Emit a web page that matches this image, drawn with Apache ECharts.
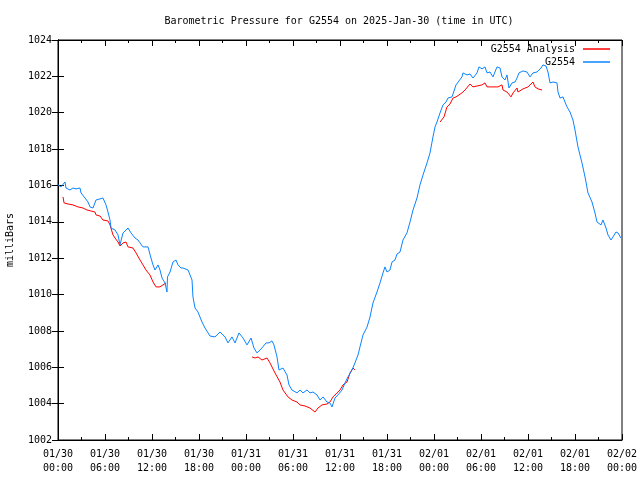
<!DOCTYPE html>
<html><head><meta charset="utf-8">
<script src="https://cdn.jsdelivr.net/npm/echarts@6/dist/echarts.min.js"></script>
<style>html,body{margin:0;padding:0;background:#fff}#c{width:640px;height:480px}</style>
</head><body><div id="c"></div>
<script>
const titleText = 'Barometric Pressure for G2554 on 2025-Jan-30 (time in UTC)';
const yAxisName = 'milliBars';
const xTickLabels = ['01/30\n00:00','01/30\n06:00','01/30\n12:00','01/30\n18:00','01/31\n00:00','01/31\n06:00','01/31\n12:00','01/31\n18:00','02/01\n00:00','02/01\n06:00','02/01\n12:00','02/01\n18:00','02/02\n00:00'];
const seriesNames = ['G2554 Analysis', 'G2554'];

// hours since 2025-01-30 00:00 UTC
const stationHours = [0,0.38,0.89,1.02,1.53,1.91,2.30,2.81,2.94,3.45,3.83,4.09,4.21,4.47,4.85,5.36,5.74,6.13,6.38,6.64,6.77,7.28,7.66,7.91,8.30,8.68,8.94,9.32,9.83,10.21,10.47,10.85,11.49,11.87,12.13,12.38,12.77,13.02,13.28,13.66,13.91,13.98,14.30,14.68,15.06,15.32,15.70,15.96,16.60,17.11,17.23,17.49,17.87,18.38,18.77,19.40,20.04,20.68,21.32,21.70,22.21,22.60,23.11,23.62,24.13,24.64,25.02,25.40,26.04,26.55,26.94,27.32,27.57,27.96,28.21,28.72,29.23,29.49,29.87,30.51,30.89,31.28,31.79,32.17,32.55,33.06,33.45,33.83,34.34,34.72,34.98,35.36,35.74,36.26,36.64,37.02,37.53,37.91,38.30,38.55,38.94,39.45,39.83,40.21,40.72,41.11,41.49,41.74,42.00,42.38,42.64,43.02,43.28,43.66,44.04,44.55,44.94,45.32,45.83,46.21,46.60,47.11,47.49,47.87,48.13,48.38,48.77,49.15,49.53,49.79,50.30,50.55,50.81,51.06,51.57,51.70,52.21,52.60,52.98,53.49,53.74,54.13,54.51,54.77,55.15,55.53,56.04,56.43,56.68,57.06,57.32,57.57,57.96,58.34,58.60,58.85,59.36,59.87,60.26,60.64,61.15,61.66,61.91,62.30,62.55,62.81,63.19,63.70,63.83,64.09,64.47,64.72,64.98,65.36,65.74,66.00,66.38,66.89,67.28,67.66,68.17,68.55,68.81,69.06,69.32,69.57,69.96,70.21,70.60,70.85,71.23,71.49,71.87];
const stationValues = [1016.03,1015.92,1016.19,1015.86,1015.75,1015.86,1015.81,1015.86,1015.59,1015.31,1015.09,1014.82,1014.93,1014.76,1015.20,1015.26,1015.31,1014.93,1014.54,1014.10,1013.66,1013.55,1013.28,1012.73,1013.39,1013.55,1013.66,1013.39,1013.11,1013.00,1012.84,1012.62,1012.62,1012.01,1011.63,1011.35,1011.63,1011.35,1010.91,1010.64,1010.14,1010.97,1011.24,1011.79,1011.90,1011.63,1011.46,1011.46,1011.35,1010.80,1009.87,1009.26,1009.04,1008.49,1008.16,1007.72,1007.67,1007.94,1007.67,1007.34,1007.67,1007.34,1007.89,1007.61,1007.23,1007.61,1007.06,1006.79,1007.06,1007.34,1007.34,1007.45,1007.23,1006.57,1005.85,1005.96,1005.58,1005.03,1004.75,1004.59,1004.75,1004.59,1004.75,1004.59,1004.64,1004.48,1004.20,1004.37,1004.09,1004.04,1003.82,1004.31,1004.48,1004.75,1005.14,1005.47,1005.85,1006.24,1006.68,1007.12,1007.78,1008.21,1008.76,1009.54,1010.14,1010.64,1011.19,1011.52,1011.24,1011.35,1011.79,1011.90,1012.23,1012.34,1013.00,1013.39,1013.99,1014.65,1015.31,1016.03,1016.58,1017.24,1017.79,1018.67,1019.22,1019.49,1019.99,1020.43,1020.59,1020.81,1020.87,1020.92,1021.53,1021.42,1021.97,1022.19,1022.08,1022.13,1021.91,1022.19,1022.52,1022.41,1022.52,1022.19,1022.24,1021.97,1022.52,1022.46,1021.97,1021.80,1022.08,1021.36,1021.64,1021.69,1021.91,1022.19,1022.30,1022.24,1021.97,1022.19,1022.24,1022.46,1022.63,1022.57,1022.24,1021.64,1021.69,1021.64,1021.14,1020.81,1020.87,1020.59,1020.32,1020.04,1019.60,1019.05,1018.12,1017.24,1016.47,1015.59,1015.09,1014.49,1013.99,1014.10,1013.83,1014.10,1013.66,1013.28,1013.00,1013.17,1013.44,1013.39,1013.11];

// analysis series; null marks a gap in the record
const analysisHours = [0.64,0.77,1.28,1.91,2.55,3.19,3.70,3.83,4.72,4.85,5.36,5.74,6.38,6.64,7.02,7.28,7.66,7.91,8.30,8.68,8.94,9.57,9.96,10.47,10.85,11.23,11.74,12.13,12.51,13.02,13.40,13.79, 20,
  24.77,25.15,25.53,26.04,26.68,27.06,27.70,28.34,28.72,29.36,29.87,30.51,30.89,31.53,32.17,32.81,33.19,33.70,34.34,34.72,35.11,35.62,36.00,36.38,36.89,37.28,37.66,37.91, 44,
  48.77,49.02,49.28,49.66,50.04,50.43,50.81,51.06,51.57,51.96,52.60,52.98,53.49,54.13,54.51,54.77,55.40,56.17,56.68,56.81,57.32,57.83,58.09,58.60,58.72,59.36,60.00,60.64,60.89,61.28,61.79];
const analysisValues = [1015.37,1015.04,1014.98,1014.93,1014.82,1014.76,1014.65,1014.54,1014.54,1014.38,1014.32,1014.10,1014.05,1013.83,1013.28,1013.11,1012.89,1012.67,1012.84,1012.89,1012.62,1012.56,1012.29,1011.90,1011.63,1011.35,1011.08,1010.69,1010.42,1010.42,1010.53,1010.64, null,
  1006.57,1006.51,1006.57,1006.40,1006.51,1006.24,1005.69,1005.19,1004.75,1004.37,1004.20,1004.09,1003.93,1003.87,1003.76,1003.54,1003.76,1003.93,1003.98,1004.09,1004.37,1004.59,1004.75,1005.03,1005.19,1005.69,1005.96,1005.85, null,
  1019.49,1019.44,1019.77,1020.32,1020.48,1020.81,1020.87,1020.87,1021.09,1021.25,1021.58,1021.42,1021.47,1021.53,1021.64,1021.42,1021.42,1021.42,1021.53,1021.25,1021.14,1020.87,1021.09,1021.36,1021.14,1021.31,1021.42,1021.69,1021.42,1021.31,1021.25];

const FONT = 'DejaVu Sans Mono';
const chart = echarts.init(document.getElementById('c'), null, {renderer: 'canvas'});
const tickStyle = {show: true, inside: true, length: 6, lineStyle: {color: '#000', width: 1}};
const minorStyle = {show: true, splitNumber: 2, length: 3, lineStyle: {color: '#000', width: 1}};
const xBase = {type: 'value', min: 0, max: 72, interval: 6,
  axisLine: {show: true, lineStyle: {color: '#000', width: 1}},
  axisTick: tickStyle, minorTick: minorStyle, splitLine: {show: false}};
const yBase = {type: 'value', min: 1002, max: 1024, interval: 2, scale: true,
  axisLine: {show: true, lineStyle: {color: '#000', width: 1}},
  axisTick: tickStyle, splitLine: {show: false}};

chart.setOption({
  animation: false,
  backgroundColor: '#fff',
  title: {text: titleText, left: 334, top: 11, textAlign: 'center',
    textStyle: {fontFamily: FONT, fontSize: 10, fontWeight: 'normal', color: '#000'}},
  legend: {data: seriesNames, orient: 'vertical', right: 30, top: 44, padding: 0,
    align: 'right', icon: 'rect', itemWidth: 27, itemHeight: 1.5, itemGap: 3,
    textStyle: {fontFamily: FONT, fontSize: 10, color: '#000', padding: [0, 3, 0, 0]}},
  grid: {left: 58, right: 18, top: 40, bottom: 40, show: true, borderColor: '#000', borderWidth: 1,
    outerBoundsMode: 'none', containLabel: false},
  xAxis: [
    Object.assign({}, xBase, {position: 'bottom',
      axisLabel: {margin: 7, fontFamily: FONT, fontSize: 10, color: '#000', lineHeight: 14,
        formatter: v => xTickLabels[Math.round(v / 6)] || ''}}),
    Object.assign({}, xBase, {position: 'top', axisLabel: {show: false}})
  ],
  yAxis: [
    Object.assign({}, yBase, {position: 'left', name: yAxisName, nameLocation: 'middle',
      nameRotate: 90, nameGap: 43,
      nameTextStyle: {fontFamily: FONT, fontSize: 10, color: '#000'},
      axisLabel: {margin: 6, fontFamily: FONT, fontSize: 10, color: '#000', formatter: v => String(v)}}),
    Object.assign({}, yBase, {position: 'right', axisLabel: {show: false}})
  ],
  series: [
    {name: seriesNames[0], type: 'line', xAxisIndex: 0, yAxisIndex: 0, showSymbol: false, symbol: 'none',
      color: '#ff0000', lineStyle: {width: 1, color: '#ff0000'}, connectNulls: false,
      data: analysisHours.map((h, i) => [h, analysisValues[i] === null ? '-' : analysisValues[i]])},
    {name: seriesNames[1], type: 'line', xAxisIndex: 0, yAxisIndex: 0, showSymbol: false, symbol: 'none',
      color: '#0a84ff', lineStyle: {width: 1, color: '#0a84ff'},
      data: stationHours.map((h, i) => [h, stationValues[i]])}
  ]
});
</script>
</body></html>
